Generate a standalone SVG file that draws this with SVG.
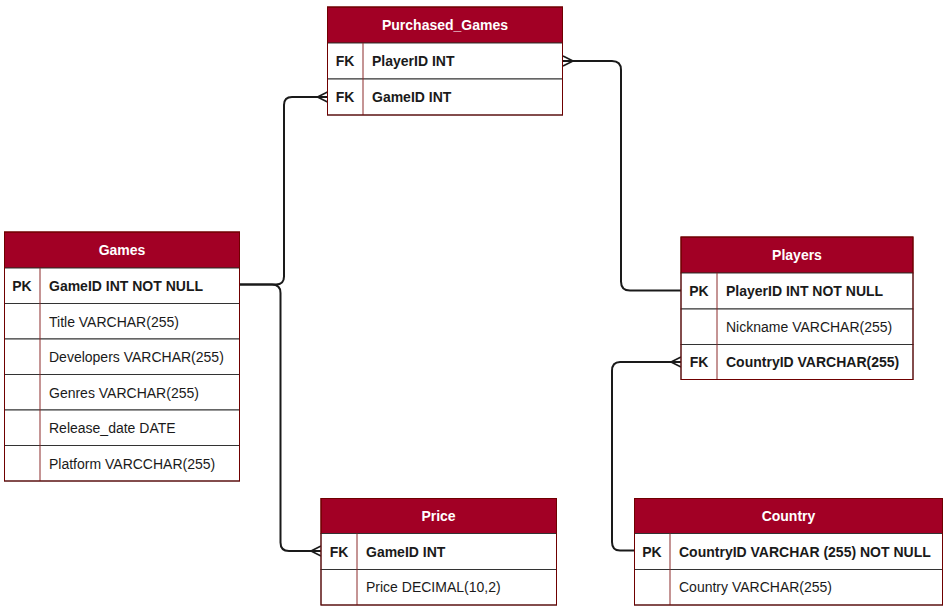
<svg xmlns="http://www.w3.org/2000/svg" width="946" height="606" viewBox="0 0 946 606">
<style>
.bg{fill:#ffffff}
.hdr{fill:#a20025;stroke:#6f0000;stroke-width:1}
.row{fill:#ffffff;stroke:#333333;stroke-width:1}
.box{fill:none;stroke:#6f0000;stroke-width:1}
.kdiv{stroke:#8b2a2a;stroke-width:1}
.ht{font-family:"Liberation Sans",Arial,sans-serif;font-size:14px;font-weight:bold;fill:#ffffff;text-anchor:middle}
.k{font-family:"Liberation Sans",Arial,sans-serif;font-size:14px;font-weight:bold;fill:#1a1a1a;text-anchor:middle}
.fb{font-family:"Liberation Sans",Arial,sans-serif;font-size:14px;font-weight:bold;fill:#1a1a1a}
.f{font-family:"Liberation Sans",Arial,sans-serif;font-size:14px;fill:#1a1a1a}
.edge{fill:none;stroke:#1a1a1a;stroke-width:2}
</style>
<defs>
<marker id="many" markerUnits="userSpaceOnUse" markerWidth="14" markerHeight="14" viewBox="-1 -7 12 14" refX="10" refY="0" orient="auto">
<path d="M0,0 L10,-5 M0,0 L10,5 M0,0 L10,0" fill="none" stroke="#1a1a1a" stroke-width="1.6"/>
</marker>
</defs>
<rect class="bg" x="0" y="0" width="946" height="606"/>

<g id="connectors">
<path class="edge" d="M240,284.5 H276 Q284,284.5 284,276.5 V105 Q284,97 292,97 H327.5" marker-end="url(#many)"/>
<path class="edge" d="M240,284.5 H272 Q280.5,284.5 280.5,293 V542.5 Q280.5,551 289,551 H321" marker-end="url(#many)"/>
<path class="edge" d="M681,290.5 H630 Q621,290.5 621,281.5 V70 Q621,61 612,61 H563" marker-end="url(#many)"/>
<path class="edge" d="M634.5,550.5 H620 Q612,550.5 612,542 V371 Q612,362 620,362 H681" marker-end="url(#many)"/>
</g>

<g id="Purchased_Games">
<rect class="hdr" x="327.5" y="7" width="235" height="36"/>
<rect class="row" x="327.5" y="43" width="235" height="36"/>
<rect class="row" x="327.5" y="79" width="235" height="36"/>
<line class="kdiv" x1="363" y1="43" x2="363" y2="115"/>
<rect class="box" x="327.5" y="7" width="235" height="108"/>
<text class="ht" x="445" y="30">Purchased_Games</text>
<text class="k" x="345" y="66">FK</text>
<text class="fb" x="372" y="66">PlayerID INT</text>
<text class="k" x="345" y="102">FK</text>
<text class="fb" x="372" y="102">GameID INT</text>
</g>

<g id="Games">
<rect class="hdr" x="4.5" y="232" width="235" height="36"/>
<rect class="row" x="4.5" y="268" width="235" height="35.5"/>
<rect class="row" x="4.5" y="303.5" width="235" height="35.5"/>
<rect class="row" x="4.5" y="339" width="235" height="35.5"/>
<rect class="row" x="4.5" y="374.5" width="235" height="35.5"/>
<rect class="row" x="4.5" y="410" width="235" height="35.5"/>
<rect class="row" x="4.5" y="445.5" width="235" height="35.5"/>
<line class="kdiv" x1="40" y1="268" x2="40" y2="481"/>
<rect class="box" x="4.5" y="232" width="235" height="249"/>
<text class="ht" x="122" y="255">Games</text>
<text class="k" x="22" y="291">PK</text>
<text class="fb" x="49" y="291">GameID INT NOT NULL</text>
<text class="f" x="49" y="326.5">Title VARCHAR(255)</text>
<text class="f" x="49" y="362">Developers VARCHAR(255)</text>
<text class="f" x="49" y="397.5">Genres VARCHAR(255)</text>
<text class="f" x="49" y="433">Release_date DATE</text>
<text class="f" x="49" y="468.5">Platform VARCCHAR(255)</text>
</g>

<g id="Players">
<rect class="hdr" x="681" y="237" width="232" height="36"/>
<rect class="row" x="681" y="273" width="232" height="36"/>
<rect class="row" x="681" y="309" width="232" height="35.5"/>
<rect class="row" x="681" y="344.5" width="232" height="35"/>
<line class="kdiv" x1="717" y1="273" x2="717" y2="379.5"/>
<rect class="box" x="681" y="237" width="232" height="142.5"/>
<text class="ht" x="797" y="260">Players</text>
<text class="k" x="699" y="296">PK</text>
<text class="fb" x="726" y="296">PlayerID INT NOT NULL</text>
<text class="f" x="726" y="331.5">Nickname VARCHAR(255)</text>
<text class="k" x="699" y="367">FK</text>
<text class="fb" x="726" y="367">CountryID VARCHAR(255)</text>
</g>

<g id="Price">
<rect class="hdr" x="321" y="498.5" width="235.5" height="35"/>
<rect class="row" x="321" y="533.5" width="235.5" height="36"/>
<rect class="row" x="321" y="569.5" width="235.5" height="35.5"/>
<line class="kdiv" x1="357" y1="533.5" x2="357" y2="605"/>
<rect class="box" x="321" y="498.5" width="235.5" height="106.5"/>
<text class="ht" x="438.5" y="521">Price</text>
<text class="k" x="339" y="556.5">FK</text>
<text class="fb" x="366" y="556.5">GameID INT</text>
<text class="f" x="366" y="592">Price DECIMAL(10,2)</text>
</g>

<g id="Country">
<rect class="hdr" x="634.5" y="498.5" width="308" height="35"/>
<rect class="row" x="634.5" y="533.5" width="308" height="36"/>
<rect class="row" x="634.5" y="569.5" width="308" height="35.5"/>
<line class="kdiv" x1="670" y1="533.5" x2="670" y2="605"/>
<rect class="box" x="634.5" y="498.5" width="308" height="106.5"/>
<text class="ht" x="788.5" y="521">Country</text>
<text class="k" x="652" y="556.5">PK</text>
<text class="fb" x="679" y="556.5">CountryID VARCHAR (255) NOT NULL</text>
<text class="f" x="679" y="592">Country VARCHAR(255)</text>
</g>
</svg>
